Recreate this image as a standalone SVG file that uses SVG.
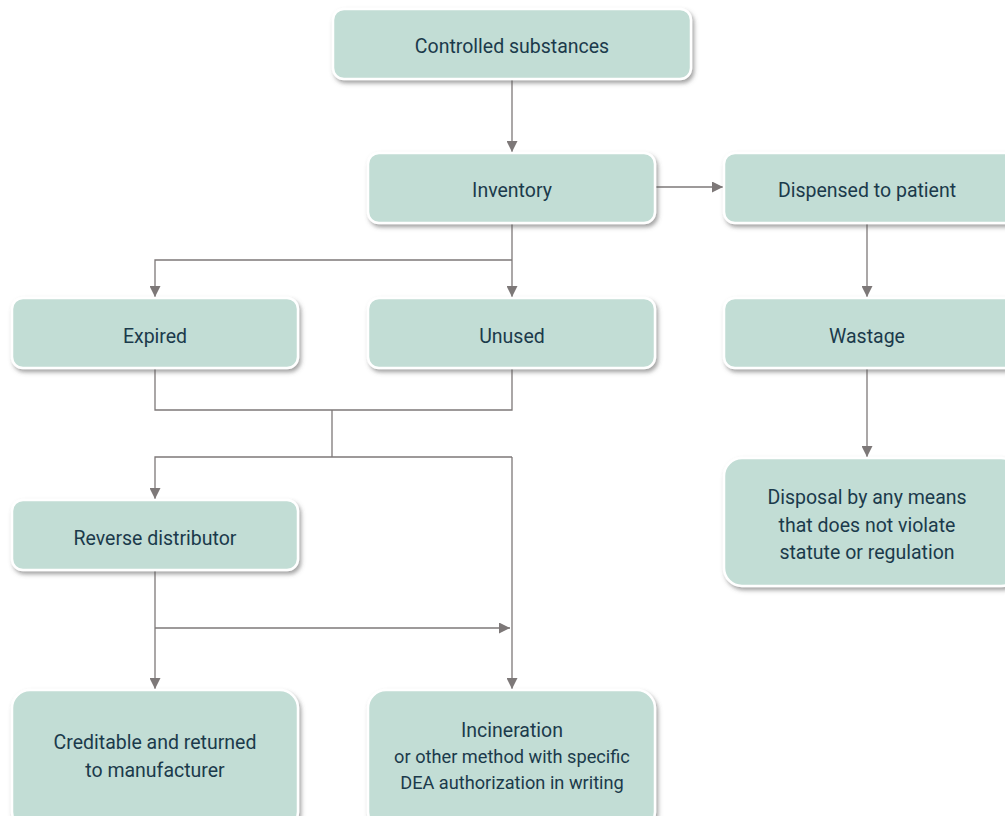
<svg xmlns="http://www.w3.org/2000/svg" width="1005" height="816" viewBox="0 0 1005 816">
<style>
.box{fill:#c2ddd5;stroke:#ffffff;stroke-width:2.5;filter:url(#sh)}
.t{font-family:Roboto,"Liberation Sans",sans-serif;font-size:19.5px;fill:#1b3a4b;text-anchor:middle}
.s{font-size:18.2px}
.c{fill:none;stroke:#7d7878;stroke-width:1.3}
</style>
<defs>
<filter id="sh" x="-10%" y="-10%" width="125%" height="135%">
<feDropShadow dx="2" dy="3" stdDeviation="2.2" flood-color="#555" flood-opacity="0.55"/>
</filter>
<marker id="ah" viewBox="0 0 10 10" refX="10" refY="5" markerWidth="11" markerHeight="11" markerUnits="userSpaceOnUse" orient="auto">
<path d="M0,0 L10,5 L0,10 Z" fill="#7d7878"/>
</marker>
</defs>
<g id="connectors">
<path class="c" d="M512,80 V152" marker-end="url(#ah)"/>
<path class="c" d="M656,187 H723" marker-end="url(#ah)"/>
<path class="c" d="M512,224 V297" marker-end="url(#ah)"/>
<path class="c" d="M512,260 H155 V297" marker-end="url(#ah)"/>
<path class="c" d="M867,224 V297" marker-end="url(#ah)"/>
<path class="c" d="M867,369 V457" marker-end="url(#ah)"/>
<path class="c" d="M155,369 V410 H512 V369"/>
<path class="c" d="M332,410 V457"/>
<path class="c" d="M512,457 H155 V499" marker-end="url(#ah)"/>
<path class="c" d="M512,457 V689" marker-end="url(#ah)"/>
<path class="c" d="M155,571 V689" marker-end="url(#ah)"/>
<path class="c" d="M155,628 H510" marker-end="url(#ah)"/>
</g>
<g id="controlled"><rect class="box" x="333" y="9" width="358" height="70" rx="11"/><text class="t" x="512" y="53">Controlled substances</text></g>
<g id="inventory"><rect class="box" x="368" y="153" width="287" height="70" rx="11"/><text class="t" x="512" y="197">Inventory</text></g>
<g id="dispensed"><rect class="box" x="724" y="153" width="295" height="70" rx="11"/><text class="t" x="867" y="197">Dispensed to patient</text></g>
<g id="expired"><rect class="box" x="12" y="298" width="286" height="70" rx="11"/><text class="t" x="155" y="343">Expired</text></g>
<g id="unused"><rect class="box" x="368" y="298" width="287" height="70" rx="11"/><text class="t" x="512" y="343">Unused</text></g>
<g id="wastage"><rect class="box" x="724" y="298" width="295" height="70" rx="11"/><text class="t" x="867" y="343">Wastage</text></g>
<g id="disposal"><rect class="box" x="724" y="458" width="295" height="128" rx="18"/><text class="t" x="867" y="504">Disposal by any means</text><text class="t" x="867" y="532">that does not violate</text><text class="t" x="867" y="559">statute or regulation</text></g>
<g id="reverse"><rect class="box" x="12" y="500" width="286" height="70" rx="11"/><text class="t" x="155" y="545">Reverse distributor</text></g>
<g id="creditable"><rect class="box" x="12" y="690" width="286" height="140" rx="18"/><text class="t" x="155" y="749">Creditable and returned</text><text class="t" x="155" y="777">to manufacturer</text></g>
<g id="incineration"><rect class="box" x="368" y="690" width="287" height="140" rx="18"/><text class="t" x="512" y="737">Incineration</text><text class="t s" x="512" y="763">or other method with specific</text><text class="t s" x="512" y="789">DEA authorization in writing</text></g>
</svg>
